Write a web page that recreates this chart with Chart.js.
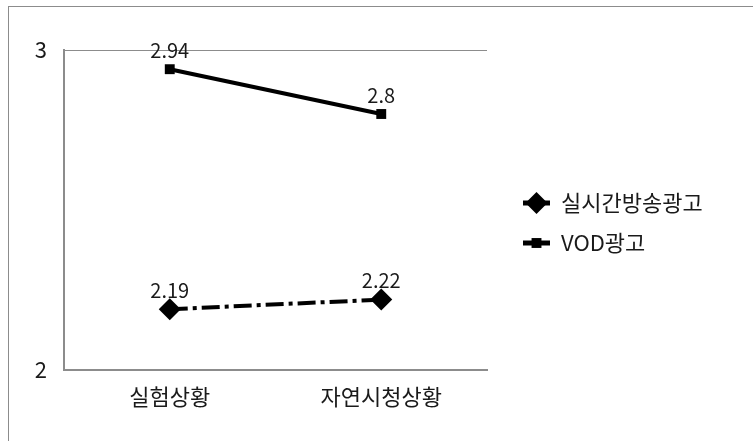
<!DOCTYPE html>
<html>
<head>
<meta charset="utf-8">
<script src="https://cdn.jsdelivr.net/npm/chart.js"></script>
<style>
  html, body { margin: 0; padding: 0; background: #fff; }
  #wrap { position: relative; width: 753px; height: 441px; overflow: hidden; }
  #frame { position: absolute; left: 8px; top: 6px; width: 800px; height: 500px; border: 1px solid #8c8c8c; box-sizing: border-box; }
  canvas { position: absolute; left: 0; top: 0; }
</style>
</head>
<body>
<div id="wrap">
  <div id="frame"></div>
  <canvas id="chart" width="753" height="441"></canvas>
</div>
<script>
const FONT = '"Noto Sans CJK KR", "Noto Sans", sans-serif'

// categories and series
const categories = ['실험상황', '자연시청상황']
const liveAd = [2.19, 2.22]   // 실시간방송광고
const vodAd = [2.94, 2.8]     // VOD광고
const yTicks = [2, 3]

// value labels above each point
const valueLabels = {
    id: 'valueLabels',
    afterDatasetsDraw(chart) {
        const ctx = chart.ctx
        ctx.save()
        ctx.font = '20px ' + FONT
        ctx.fillStyle = '#1a1a1a'
        ctx.textAlign = 'center'
        ctx.textBaseline = 'bottom'
        chart.data.datasets.forEach((ds, i) => {
            const meta = chart.getDatasetMeta(i)
            meta.data.forEach((pt, j) => {
                ctx.fillText(String(ds.data[j]), pt.x, pt.y - 9)
            })
        })
        ctx.restore()
    }
}

// legend on the right: a short line through the marker, then the name
const sideLegend = {
    id: 'sideLegend',
    afterDraw(chart) {
        const ctx = chart.ctx
        const x0 = 523, x1 = 550, xText = 561
        const rows = [203, 243]
        ctx.save()
        chart.data.datasets.forEach((ds, i) => {
            const y = rows[i]
            const cx = (x0 + x1) / 2
            ctx.strokeStyle = '#000'
            ctx.fillStyle = '#000'
            ctx.lineWidth = 5
            ctx.setLineDash([])
            ctx.beginPath()
            ctx.moveTo(x0, y)
            ctx.lineTo(x1, y)
            ctx.stroke()
            Chart.helpers.drawPoint(ctx, {
                pointStyle: ds.pointStyle,
                radius: ds.pointRadius,
                borderWidth: 0
            }, cx, y)
            ctx.fillStyle = '#1a1a1a'
            ctx.font = '22px ' + FONT
            ctx.textAlign = 'left'
            ctx.textBaseline = 'middle'
            ctx.fillText(ds.label, xText, y)
        })
        ctx.restore()
    }
}

new Chart(document.getElementById('chart'), {
    type: 'line',
    data: {
        labels: categories,
        datasets: [{
            label: '실시간방송광고',
            data: liveAd,
            borderColor: '#000',
            backgroundColor: '#000',
            borderWidth: 4,
            borderDash: [18, 5, 4, 5],
            pointStyle: 'rectRot',
            pointRadius: 11,
            pointBorderWidth: 0,
            pointBackgroundColor: '#000'
        }, {
            label: 'VOD광고',
            data: vodAd,
            borderColor: '#000',
            backgroundColor: '#000',
            borderWidth: 4,
            pointStyle: 'rect',
            pointRadius: 7,
            pointBorderWidth: 0,
            pointBackgroundColor: '#000'
        }]
    },
    options: {
        responsive: false,
        animation: false,
        layout: { padding: { top: 50, right: 266, left: 0, bottom: 0 } },
        plugins: { legend: { display: false }, tooltip: { enabled: false } },
        scales: {
            x: {
                offset: true,
                afterFit: s => { s.height = 71 },
                grid: { display: false, drawTicks: false },
                border: { color: '#8c8c8c', width: 2 },
                ticks: { color: '#1a1a1a', font: { family: FONT, size: 22 }, padding: 13 }
            },
            y: {
                min: 2,
                max: 3,
                afterFit: s => { s.width = 64 },
                afterBuildTicks: s => { s.ticks = yTicks.map(v => ({ value: v })) },
                grid: { color: '#8c8c8c', lineWidth: 1, drawTicks: false },
                border: { color: '#8c8c8c', width: 2 },
                ticks: { color: '#1a1a1a', font: { family: FONT, size: 22 }, padding: 17 }
            }
        }
    },
    plugins: [valueLabels, sideLegend]
})
</script>
</body>
</html>
